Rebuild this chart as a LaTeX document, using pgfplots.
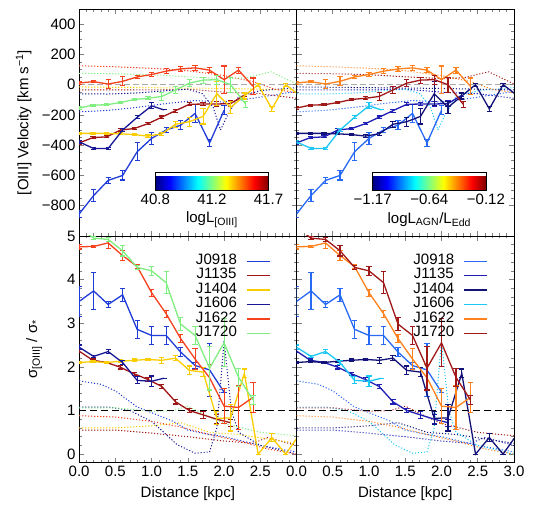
\documentclass[border=0pt]{standalone}
\usepackage{fontspec}
\setmainfont{Liberation Sans}
\usepackage{pgfplots}
\usepackage{pgfplotstable}
\pgfplotsset{compat=1.18}
\usepgfplotslibrary{groupplots}

% left column colours (coded by log L[OIII])
\definecolor{lA}{RGB}{32,60,215}
\definecolor{lB}{RGB}{160,22,22}
\definecolor{lC}{RGB}{250,205,0}
\definecolor{lD}{RGB}{24,24,150}
\definecolor{lE}{RGB}{245,65,30}
\definecolor{lF}{RGB}{128,238,128}
% right column colours (coded by log L_AGN/L_Edd)
\definecolor{rA}{RGB}{40,105,245}
\definecolor{rB}{RGB}{30,30,180}
\definecolor{rC}{RGB}{18,18,120}
\definecolor{rD}{RGB}{30,200,245}
\definecolor{rE}{RGB}{255,130,30}
\definecolor{rF}{RGB}{160,24,24}

% ---- [OIII] velocity: d [kpc], v [km/s], error
\pgfplotstableread{
d y e
0 -855 25
0.2 -733 40
0.4 -633 18
0.6 -600 30
0.8 -444 60
1.0 -355 40
1.2 -300 15
1.4 -268 30
1.6 -190 60
1.8 -385 25
2.0 -170 30
}\vA
\pgfplotstableread{
d y e
0 -385 8
0.19 -350 6
0.38 -345 6
0.57 -300 8
0.76 -290 6
0.95 -258 8
1.14 -215 8
1.33 -172 10
1.52 -130 10
1.71 -128 10
1.9 -128 15
2.09 -125 20
2.28 -70 10
}\vB
\pgfplotstableread{
d y e
0 -322 8
0.19 -322 6
0.38 -322 6
0.57 -325 6
0.76 -330 8
0.95 -340 10
1.14 -325 10
1.33 -262 20
1.52 -245 30
1.71 -210 50
1.9 -60 80
2.09 -150 40
2.28 -75 20
2.47 0 10
2.66 -160 15
2.85 0 10
3.04 -70 10
}\vC
\pgfplotstableread{
d y e
0 -378 10
0.2 -422 8
0.4 -422 8
0.6 -300 10
0.8 -216 10
1.0 -140 20
1.17 -167 0
}\vD
\pgfplotstableread{
d y e
0 11 10
0.2 20 8
0.4 4 30
0.6 22 30
0.8 51 8
1.0 67 12
1.2 89 15
1.4 104 15
1.6 111 15
1.8 96 15
2.0 33 90
2.2 96 20
2.4 -11 55
}\vE
\pgfplotstableread{
d y e
0 -155 8
0.19 -135 6
0.38 -133 6
0.57 -118 6
0.76 -98 8
0.95 -90 10
1.14 -78 25
1.33 -35 25
1.52 10 25
1.71 30 20
1.9 33 30
2.09 0 50
2.3 -130 20
}\vF
% ---- stellar velocity (dotted)
\pgfplotstableread{
d y
0 -180
0.4 -170
0.8 -150
1.2 -125
1.6 -105
2.0 -115
2.4 -90
2.8 -60
3.0 -45
}\dvA
\pgfplotstableread{
d y
0 -35
1.0 -35
1.5 -30
2.0 -50
2.5 -60
3.0 -90
}\dvB
\pgfplotstableread{
d y
0 -15
1.0 -20
2.0 -25
2.5 -30
3.0 -35
}\dvC
\pgfplotstableread{
d y
0 -60
0.4 -62
0.8 -55
1.2 -40
1.5 -30
1.7 -60
1.85 -150
1.95 -300
2.05 -200
2.2 -80
2.5 -40
3.0 -20
}\dvD
\pgfplotstableread{
d y
0 125
0.5 118
1.0 108
1.5 92
2.0 60
2.4 20
2.7 -30
3.0 -55
}\dvE
\pgfplotstableread{
d y
0 75
0.5 72
1.0 66
1.5 52
2.0 40
2.3 45
2.65 85
3.0 5
}\dvF
% ---- sigma[OIII]/sigma*: d, ratio, error
\pgfplotstableread{
d y e
0 3.5 0.35
0.2 3.74 0.42
0.4 3.43 0.07
0.6 3.65 0.15
0.8 2.86 0.2
1.0 2.72 0.2
1.2 2.72 0.2
1.4 2.34 0.1
1.6 2.03 0.08
1.8 1.93 0.6
2.0 1.42 0
}\sA
\pgfplotstableread{
d y e
0 2.36 0.04
0.19 2.15 0.03
0.38 2.1 0.03
0.57 1.99 0.04
0.76 1.84 0.04
0.95 1.71 0.04
1.14 1.55 0.04
1.33 1.2 0.05
1.52 1.0 0.05
1.71 0.9 0.08
1.9 0.8 0.1
2.09 0.72 0.08
}\sB
\pgfplotstableread{
d y e
0 2.1 0.03
0.19 2.12 0.03
0.38 2.1 0.03
0.57 2.13 0.03
0.76 2.15 0.03
0.95 2.17 0.03
1.14 2.15 0.07
1.33 2.2 0.06
1.52 1.92 0.1
1.71 1.88 0.1
1.9 0.82 0.15
2.09 0.83 0.3
2.28 1.85 0.1
2.47 0.0 0
2.66 0.38 0.1
2.85 0.0 0
3.04 0.45 0
}\sC
\pgfplotstableread{
d y e
0 2.45 0.05
0.2 2.24 0.03
0.4 2.35 0.04
0.6 2.1 0.05
0.8 1.69 0.08
1.0 1.67 0.12
1.17 1.74 0
}\sD
\pgfplotstableread{
d y e
0 4.75 0.05
0.2 4.76 0.03
0.4 4.84 0.12
0.6 4.55 0.12
0.8 4.3 0.05
1.0 3.7 0.08
1.2 3.22 0.08
1.4 2.65 0.1
1.6 2.18 0.25
1.8 1.75 0.3
2.0 1.1 0.4
2.2 1.07 0.5
2.4 1.3 0.35
}\sE
\pgfplotstableread{
d y e
0 5.2 0
0.2 4.95 0.03
0.4 4.92 0.05
0.6 4.66 0.12
0.8 4.28 0.05
1.0 4.2 0.1
1.2 3.93 0.25
1.4 2.98 0.15
1.6 2.72 0.2
1.8 1.97 0.5
2.0 2.55 0.55
2.2 1.76 0.2
2.4 1.24 0.1
}\sF
% ---- dotted
\pgfplotstableread{
d y
0 1.68
0.3 1.6
0.5 1.45
0.8 1.08
1.0 0.95
1.3 0.75
1.5 0.55
1.8 0.45
2.0 0.4
2.5 0.2
3.0 0.05
}\dsA
\pgfplotstableread{
d y
0 0.55
0.5 0.55
1.0 0.48
1.5 0.4
2.0 0.3
2.4 0.25
2.6 0.38
3.0 0.2
}\dsB
\pgfplotstableread{
d y
0 0.6
0.5 0.6
1.0 0.65
1.4 0.72
1.8 0.5
2.2 0.45
2.6 0.35
3.0 0.25
}\dsC
\pgfplotstableread{
d y
0 1.08
0.4 1.08
0.7 1.0
1.0 0.75
1.2 0.45
1.35 0.22
1.6 0.02
1.8 0.05
1.9 0.6
2.0 2.6
2.1 1.0
2.2 0.5
2.5 0.2
3.0 0.0
}\dsD
\pgfplotstableread{
d y
0 0.88
0.5 0.85
1.0 0.75
1.4 0.62
1.8 0.45
2.2 0.3
2.6 0.12
3.0 0.0
}\dsE
\pgfplotstableread{
d y
0 1.06
0.5 1.06
1.0 0.98
1.3 1.0
1.5 1.1
1.8 0.85
2.0 0.7
2.5 0.5
3.0 0.42
}\dsF

\pgfplotsset{
  main/.style={line width=1.3pt, mark=none,
    /pgfplots/error bars/y dir=both, /pgfplots/error bars/y explicit,
    /pgfplots/error bars/error bar style={line width=1.1pt},
    /pgfplots/error bars/error mark options={rotate=90, mark size=2.6pt, line width=1.1pt}},
  dotl/.style={line width=1pt, dash pattern=on 1.1pt off 1.9pt, forget plot},
  tick label style={font=\fontsize{15}{15}\selectfont},
  label style={font=\fontsize{15}{17}\selectfont},
  cbar/.style={colormap/jet, colorbar horizontal, point meta min=0, point meta max=1},
  cbarstyle/.style={at={(0.3502,0.1987)}, anchor=south west,
    width=113pt, height=18pt, scale only axis, xtick={0,0.5,1},
    major tick length=0pt, minor x tick num=0,
    xlabel style={at={(axis description cs:0.5,-1.6)}, anchor=center}},
  lgd/.style={legend plot pos=right,
    legend image code/.code={\draw[##1, line width=1.3pt] (0pt,0pt) -- (23pt,0pt);},
    legend style={draw=none, fill=none, at={(axis description cs:0.894,0.93)}, anchor=north east,
      font=\fontsize{15}{15}\selectfont, column sep=9pt,
      nodes={inner sep=0pt, text height=10.5pt, text depth=3.9pt}}},
}

\begin{document}
\begin{tikzpicture}
\begin{groupplot}[
  group style={group size=2 by 2, horizontal sep=0pt, vertical sep=0pt},
  width=217pt, height=226.5pt, scale only axis,
  xmin=0, xmax=3, xtick={0,0.5,...,3}, minor x tick num=4,
  tick align=inside, major tick length=5pt, minor tick length=2.5pt,
  axis line style={line width=0.8pt}, tick style={line width=0.6pt},
  clip=true,
]
% ---------------- top left
\nextgroupplot[ymin=-1000, ymax=500, ytick={-800,-600,...,400}, minor y tick num=3,
  yticklabels={−800,−600,−400,−200,0,200,400}, xticklabels={},
  ylabel={[OIII] Velocity [km s\textsuperscript{−1}]},
  ylabel style={at={(axis description cs:-0.255,0.5)}, anchor=center},
  cbar, colorbar style={cbarstyle, xticklabels={40.8,41.2,41.7},
    xlabel={logL\textsubscript{[OIII]}}}]
\addplot[dotl,lA] table[x=d,y=y] {\dvA};
\addplot[dotl,lB] table[x=d,y=y] {\dvB};
\addplot[dotl,lC] table[x=d,y=y] {\dvC};
\addplot[dotl,lD] table[x=d,y=y] {\dvD};
\addplot[dotl,lE] table[x=d,y=y] {\dvE};
\addplot[dotl,lF] table[x=d,y=y] {\dvF};
\addplot[forget plot, color={rgb,255:red,170;green,170;blue,170}, line width=1.4pt, dash pattern=on 6pt off 3pt] coordinates {(0,0)(3,0)};
\addplot[main,lA] table[x=d,y=y,y error=e] {\vA};
\addplot[main,lB] table[x=d,y=y,y error=e] {\vB};
\addplot[main,lC] table[x=d,y=y,y error=e] {\vC};
\addplot[main,lD] table[x=d,y=y,y error=e] {\vD};
\addplot[main,lE] table[x=d,y=y,y error=e] {\vE};
\addplot[main,lF] table[x=d,y=y,y error=e] {\vF};
% ---------------- top right
\nextgroupplot[ymin=-1000, ymax=500, ytick={-800,-600,...,400}, minor y tick num=3,
  yticklabels={}, xticklabels={},
  cbar, colorbar style={cbarstyle, xticklabels={−1.17,−0.64,−0.12},
    xlabel={logL\textsubscript{AGN}/L\textsubscript{Edd}}}]
\addplot[dotl,rA] table[x=d,y=y] {\dvA};
\addplot[dotl,rB] table[x=d,y=y] {\dvB};
\addplot[dotl,rC] table[x=d,y=y] {\dvC};
\addplot[dotl,rD] table[x=d,y=y] {\dvD};
\addplot[dotl,rE] table[x=d,y=y] {\dvE};
\addplot[dotl,rF] table[x=d,y=y] {\dvF};
\addplot[forget plot, color={rgb,255:red,170;green,170;blue,170}, line width=1.4pt, dash pattern=on 6pt off 3pt] coordinates {(0,0)(3,0)};
\addplot[main,rA] table[x=d,y=y,y error=e] {\vA};
\addplot[main,rB] table[x=d,y=y,y error=e] {\vB};
\addplot[main,rC] table[x=d,y=y,y error=e] {\vC};
\addplot[main,rD] table[x=d,y=y,y error=e] {\vD};
\addplot[main,rE] table[x=d,y=y,y error=e] {\vE};
\addplot[main,rF] table[x=d,y=y,y error=e] {\vF};
% ---------------- bottom left
\nextgroupplot[ymin=-0.2, ymax=5, ytick={0,...,5}, minor y tick num=4,
  yticklabels={0,1,2,3,4,5},
  xticklabels={0.0,0.5,1.0,1.5,2.0,2.5,{}},
  xlabel={Distance [kpc]},
  xlabel style={at={(axis description cs:0.5,-0.137)}, anchor=center},
  ylabel={σ\textsubscript{[OIII]} / σ\textsubscript{*}},
  ylabel style={at={(axis description cs:-0.207,0.5)}, anchor=center},
  lgd]
\addplot[dotl,lA] table[x=d,y=y] {\dsA};
\addplot[dotl,lB] table[x=d,y=y] {\dsB};
\addplot[dotl,lC] table[x=d,y=y] {\dsC};
\addplot[dotl,lD] table[x=d,y=y] {\dsD};
\addplot[dotl,lE] table[x=d,y=y] {\dsE};
\addplot[dotl,lF] table[x=d,y=y] {\dsF};
\addplot[forget plot, black, line width=0.9pt, dash pattern=on 7pt off 4pt] coordinates {(0,1)(3,1)};
\addplot[main,lA] table[x=d,y=y,y error=e] {\sA};
\addplot[main,lB] table[x=d,y=y,y error=e] {\sB};
\addplot[main,lC] table[x=d,y=y,y error=e] {\sC};
\addplot[main,lD] table[x=d,y=y,y error=e] {\sD};
\addplot[main,lE] table[x=d,y=y,y error=e] {\sE};
\addplot[main,lF] table[x=d,y=y,y error=e] {\sF};
\legend{J0918,J1135,J1404,J1606,J1622,J1720}
% ---------------- bottom right
\nextgroupplot[ymin=-0.2, ymax=5, ytick={0,...,5}, minor y tick num=4,
  yticklabels={},
  xticklabels={0.0,0.5,1.0,1.5,2.0,2.5,3.0},
  xlabel={Distance [kpc]},
  xlabel style={at={(axis description cs:0.5,-0.137)}, anchor=center},
  lgd]
\addplot[dotl,rA] table[x=d,y=y] {\dsA};
\addplot[dotl,rB] table[x=d,y=y] {\dsB};
\addplot[dotl,rC] table[x=d,y=y] {\dsC};
\addplot[dotl,rD] table[x=d,y=y] {\dsD};
\addplot[dotl,rE] table[x=d,y=y] {\dsE};
\addplot[dotl,rF] table[x=d,y=y] {\dsF};
\addplot[forget plot, black, line width=0.9pt, dash pattern=on 7pt off 4pt] coordinates {(0,1)(3,1)};
\addplot[main,rA] table[x=d,y=y,y error=e] {\sA};
\addplot[main,rB] table[x=d,y=y,y error=e] {\sB};
\addplot[main,rC] table[x=d,y=y,y error=e] {\sC};
\addplot[main,rD] table[x=d,y=y,y error=e] {\sD};
\addplot[main,rE] table[x=d,y=y,y error=e] {\sE};
\addplot[main,rF] table[x=d,y=y,y error=e] {\sF};
\legend{J0918,J1135,J1404,J1606,J1622,J1720}
\end{groupplot}
\pgfresetboundingbox
\path[use as bounding box] ([xshift=-79pt,yshift=-61pt]group c1r2.south west) rectangle ([xshift=24pt,yshift=9pt]group c2r1.north east);
\end{tikzpicture}
\end{document}
